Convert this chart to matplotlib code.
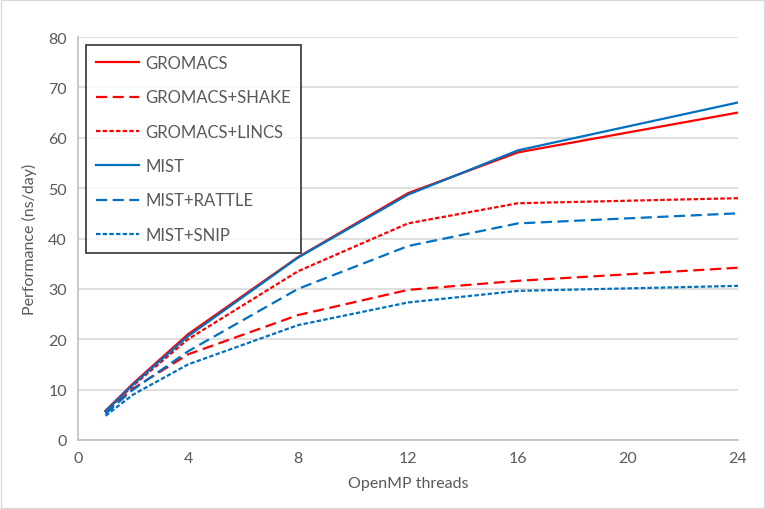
import matplotlib.pyplot as plt
import matplotlib.patches as mpatches

plt.rcParams["font.family"] = ["Lato", "DejaVu Sans"]

threads = [1, 2, 4, 8, 12, 16, 24]
gromacs = [5.8, 11.2, 21.0, 36.3, 49.0, 57.1, 65.0]
gromacs_shake = [5.5, 10.2, 17.0, 24.8, 29.8, 31.6, 34.2]
gromacs_lincs = [5.6, 10.8, 20.0, 33.5, 43.0, 47.0, 48.0]
mist = [5.7, 11.0, 20.6, 36.2, 48.7, 57.5, 67.0]
mist_rattle = [5.2, 10.0, 17.6, 30.0, 38.5, 43.0, 45.0]
mist_snip = [4.8, 9.0, 15.0, 22.8, 27.3, 29.6, 30.6]

series = [
    ("GROMACS", gromacs, "#ff0000", "-"),
    ("GROMACS+SHAKE", gromacs_shake, "#ff0000", (0, (5, 2.5))),
    ("GROMACS+LINCS", gromacs_lincs, "#ff0000", (0, (2, 1))),
    ("MIST", mist, "#0070c0", "-"),
    ("MIST+RATTLE", mist_rattle, "#0070c0", (0, (5, 2.5))),
    ("MIST+SNIP", mist_snip, "#0070c0", (0, (2, 1))),
]

fig = plt.figure(figsize=(7.65, 5.1), dpi=100)
ax = fig.add_axes([78 / 765, 1 - 441 / 510, 660 / 765, 403 / 510])

for name, vals, col, ls in series:
    ax.plot(threads, vals, color=col, linestyle=ls, linewidth=1.6, label=name)

ax.set_xlim(0, 24)
ax.set_ylim(0, 80)
ax.set_xticks(range(0, 25, 4))
ax.set_yticks(range(0, 81, 10))
ax.grid(axis="y", color="#d9d9d9", linewidth=1.2)
ax.set_axisbelow(True)
for s in ["top", "right"]:
    ax.spines[s].set_visible(False)
for s in ["left", "bottom"]:
    ax.spines[s].set_color("#bfbfbf")
    ax.spines[s].set_linewidth(1.2)
ax.tick_params(length=0, labelsize=11.5, colors="#595959", pad=8)
ax.set_xlabel("OpenMP threads", fontsize=11.5, color="#595959", labelpad=8)
ax.set_ylabel("Performance (ns/day)", fontsize=11.5, color="#595959", labelpad=8)

leg = ax.legend(loc="upper left", bbox_to_anchor=(0.012, 0.98), fontsize=12,
                frameon=True, fancybox=False, labelspacing=1.1,
                handlelength=2.6, handletextpad=0.35, borderpad=0.6,
                borderaxespad=0, labelcolor="#595959")
leg.get_frame().set_edgecolor("black")
leg.get_frame().set_linewidth(1.2)

fig.patches.append(mpatches.Rectangle((0.001, 0.001), 0.998, 0.998, transform=fig.transFigure,
                                      fill=False, edgecolor="#d9d9d9", linewidth=1))

fig.savefig("out.png", dpi=100)
